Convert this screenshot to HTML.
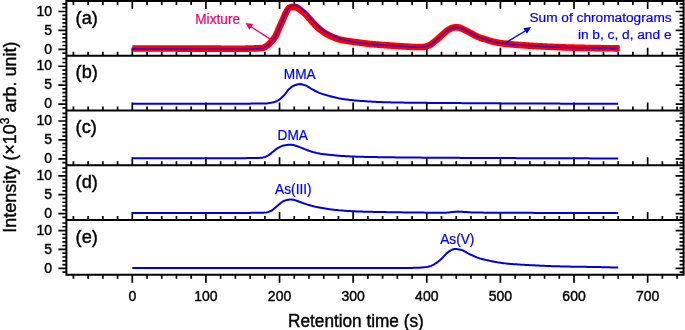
<!DOCTYPE html>
<html><head><meta charset="utf-8"><style>
html,body{margin:0;padding:0;background:#fff;width:685px;height:330px;overflow:hidden}
svg{display:block;font-family:"Liberation Sans",sans-serif}
.t{filter:blur(0.05px)}
</style></head><body>
<svg width="685" height="330" viewBox="0 0 685 330">
<rect width="685" height="330" fill="#fff"/>
<path d="M62.400000000000006,53.08H66.4M679.6,53.08H683.6M58.400000000000006,49.30H66.4M675.6,49.30H683.6M62.400000000000006,45.52H66.4M679.6,45.52H683.6M62.400000000000006,41.74H66.4M679.6,41.74H683.6M62.400000000000006,37.96H66.4M679.6,37.96H683.6M62.400000000000006,34.18H66.4M679.6,34.18H683.6M58.400000000000006,30.40H66.4M675.6,30.40H683.6M62.400000000000006,26.62H66.4M679.6,26.62H683.6M62.400000000000006,22.84H66.4M679.6,22.84H683.6M62.400000000000006,19.06H66.4M679.6,19.06H683.6M62.400000000000006,15.28H66.4M679.6,15.28H683.6M58.400000000000006,11.50H66.4M675.6,11.50H683.6M62.400000000000006,7.72H66.4M679.6,7.72H683.6M62.400000000000006,3.94H66.4M679.6,3.94H683.6M73.40,55.76V51.76M73.40,1.00V5.00M88.13,55.76V51.76M88.13,1.00V5.00M102.85,55.76V51.76M102.85,1.00V5.00M117.58,55.76V51.76M117.58,1.00V5.00M132.30,55.76V47.76M132.30,1.00V9.00M147.02,55.76V51.76M147.02,1.00V5.00M161.75,55.76V51.76M161.75,1.00V5.00M176.47,55.76V51.76M176.47,1.00V5.00M191.20,55.76V51.76M191.20,1.00V5.00M205.92,55.76V47.76M205.92,1.00V9.00M220.64,55.76V51.76M220.64,1.00V5.00M235.37,55.76V51.76M235.37,1.00V5.00M250.09,55.76V51.76M250.09,1.00V5.00M264.82,55.76V51.76M264.82,1.00V5.00M279.54,55.76V47.76M279.54,1.00V9.00M294.26,55.76V51.76M294.26,1.00V5.00M308.99,55.76V51.76M308.99,1.00V5.00M323.71,55.76V51.76M323.71,1.00V5.00M338.44,55.76V51.76M338.44,1.00V5.00M353.16,55.76V47.76M353.16,1.00V9.00M367.88,55.76V51.76M367.88,1.00V5.00M382.61,55.76V51.76M382.61,1.00V5.00M397.33,55.76V51.76M397.33,1.00V5.00M412.06,55.76V51.76M412.06,1.00V5.00M426.78,55.76V47.76M426.78,1.00V9.00M441.50,55.76V51.76M441.50,1.00V5.00M456.23,55.76V51.76M456.23,1.00V5.00M470.95,55.76V51.76M470.95,1.00V5.00M485.68,55.76V51.76M485.68,1.00V5.00M500.40,55.76V47.76M500.40,1.00V9.00M515.12,55.76V51.76M515.12,1.00V5.00M529.85,55.76V51.76M529.85,1.00V5.00M544.57,55.76V51.76M544.57,1.00V5.00M559.30,55.76V51.76M559.30,1.00V5.00M574.02,55.76V47.76M574.02,1.00V9.00M588.74,55.76V51.76M588.74,1.00V5.00M603.47,55.76V51.76M603.47,1.00V5.00M618.19,55.76V51.76M618.19,1.00V5.00M632.92,55.76V51.76M632.92,1.00V5.00M647.64,55.76V47.76M647.64,1.00V9.00M662.36,55.76V51.76M662.36,1.00V5.00M677.09,55.76V51.76M677.09,1.00V5.00M62.400000000000006,107.84H66.4M679.6,107.84H683.6M58.400000000000006,104.06H66.4M675.6,104.06H683.6M62.400000000000006,100.28H66.4M679.6,100.28H683.6M62.400000000000006,96.50H66.4M679.6,96.50H683.6M62.400000000000006,92.72H66.4M679.6,92.72H683.6M62.400000000000006,88.94H66.4M679.6,88.94H683.6M58.400000000000006,85.16H66.4M675.6,85.16H683.6M62.400000000000006,81.38H66.4M679.6,81.38H683.6M62.400000000000006,77.60H66.4M679.6,77.60H683.6M62.400000000000006,73.82H66.4M679.6,73.82H683.6M62.400000000000006,70.04H66.4M679.6,70.04H683.6M58.400000000000006,66.26H66.4M675.6,66.26H683.6M62.400000000000006,62.48H66.4M679.6,62.48H683.6M62.400000000000006,58.70H66.4M679.6,58.70H683.6M73.40,110.52V106.52M88.13,110.52V106.52M102.85,110.52V106.52M117.58,110.52V106.52M132.30,110.52V102.52M147.02,110.52V106.52M161.75,110.52V106.52M176.47,110.52V106.52M191.20,110.52V106.52M205.92,110.52V102.52M220.64,110.52V106.52M235.37,110.52V106.52M250.09,110.52V106.52M264.82,110.52V106.52M279.54,110.52V102.52M294.26,110.52V106.52M308.99,110.52V106.52M323.71,110.52V106.52M338.44,110.52V106.52M353.16,110.52V102.52M367.88,110.52V106.52M382.61,110.52V106.52M397.33,110.52V106.52M412.06,110.52V106.52M426.78,110.52V102.52M441.50,110.52V106.52M456.23,110.52V106.52M470.95,110.52V106.52M485.68,110.52V106.52M500.40,110.52V102.52M515.12,110.52V106.52M529.85,110.52V106.52M544.57,110.52V106.52M559.30,110.52V106.52M574.02,110.52V102.52M588.74,110.52V106.52M603.47,110.52V106.52M618.19,110.52V106.52M632.92,110.52V106.52M647.64,110.52V102.52M662.36,110.52V106.52M677.09,110.52V106.52M62.400000000000006,162.60H66.4M679.6,162.60H683.6M58.400000000000006,158.82H66.4M675.6,158.82H683.6M62.400000000000006,155.04H66.4M679.6,155.04H683.6M62.400000000000006,151.26H66.4M679.6,151.26H683.6M62.400000000000006,147.48H66.4M679.6,147.48H683.6M62.400000000000006,143.70H66.4M679.6,143.70H683.6M58.400000000000006,139.92H66.4M675.6,139.92H683.6M62.400000000000006,136.14H66.4M679.6,136.14H683.6M62.400000000000006,132.36H66.4M679.6,132.36H683.6M62.400000000000006,128.58H66.4M679.6,128.58H683.6M62.400000000000006,124.80H66.4M679.6,124.80H683.6M58.400000000000006,121.02H66.4M675.6,121.02H683.6M62.400000000000006,117.24H66.4M679.6,117.24H683.6M62.400000000000006,113.46H66.4M679.6,113.46H683.6M73.40,165.28V161.28M88.13,165.28V161.28M102.85,165.28V161.28M117.58,165.28V161.28M132.30,165.28V157.28M147.02,165.28V161.28M161.75,165.28V161.28M176.47,165.28V161.28M191.20,165.28V161.28M205.92,165.28V157.28M220.64,165.28V161.28M235.37,165.28V161.28M250.09,165.28V161.28M264.82,165.28V161.28M279.54,165.28V157.28M294.26,165.28V161.28M308.99,165.28V161.28M323.71,165.28V161.28M338.44,165.28V161.28M353.16,165.28V157.28M367.88,165.28V161.28M382.61,165.28V161.28M397.33,165.28V161.28M412.06,165.28V161.28M426.78,165.28V157.28M441.50,165.28V161.28M456.23,165.28V161.28M470.95,165.28V161.28M485.68,165.28V161.28M500.40,165.28V157.28M515.12,165.28V161.28M529.85,165.28V161.28M544.57,165.28V161.28M559.30,165.28V161.28M574.02,165.28V157.28M588.74,165.28V161.28M603.47,165.28V161.28M618.19,165.28V161.28M632.92,165.28V161.28M647.64,165.28V157.28M662.36,165.28V161.28M677.09,165.28V161.28M62.400000000000006,217.36H66.4M679.6,217.36H683.6M58.400000000000006,213.58H66.4M675.6,213.58H683.6M62.400000000000006,209.80H66.4M679.6,209.80H683.6M62.400000000000006,206.02H66.4M679.6,206.02H683.6M62.400000000000006,202.24H66.4M679.6,202.24H683.6M62.400000000000006,198.46H66.4M679.6,198.46H683.6M58.400000000000006,194.68H66.4M675.6,194.68H683.6M62.400000000000006,190.90H66.4M679.6,190.90H683.6M62.400000000000006,187.12H66.4M679.6,187.12H683.6M62.400000000000006,183.34H66.4M679.6,183.34H683.6M62.400000000000006,179.56H66.4M679.6,179.56H683.6M58.400000000000006,175.78H66.4M675.6,175.78H683.6M62.400000000000006,172.00H66.4M679.6,172.00H683.6M62.400000000000006,168.22H66.4M679.6,168.22H683.6M73.40,220.04V216.04M88.13,220.04V216.04M102.85,220.04V216.04M117.58,220.04V216.04M132.30,220.04V212.04M147.02,220.04V216.04M161.75,220.04V216.04M176.47,220.04V216.04M191.20,220.04V216.04M205.92,220.04V212.04M220.64,220.04V216.04M235.37,220.04V216.04M250.09,220.04V216.04M264.82,220.04V216.04M279.54,220.04V212.04M294.26,220.04V216.04M308.99,220.04V216.04M323.71,220.04V216.04M338.44,220.04V216.04M353.16,220.04V212.04M367.88,220.04V216.04M382.61,220.04V216.04M397.33,220.04V216.04M412.06,220.04V216.04M426.78,220.04V212.04M441.50,220.04V216.04M456.23,220.04V216.04M470.95,220.04V216.04M485.68,220.04V216.04M500.40,220.04V212.04M515.12,220.04V216.04M529.85,220.04V216.04M544.57,220.04V216.04M559.30,220.04V216.04M574.02,220.04V212.04M588.74,220.04V216.04M603.47,220.04V216.04M618.19,220.04V216.04M632.92,220.04V216.04M647.64,220.04V212.04M662.36,220.04V216.04M677.09,220.04V216.04M62.400000000000006,272.12H66.4M679.6,272.12H683.6M58.400000000000006,268.34H66.4M675.6,268.34H683.6M62.400000000000006,264.56H66.4M679.6,264.56H683.6M62.400000000000006,260.78H66.4M679.6,260.78H683.6M62.400000000000006,257.00H66.4M679.6,257.00H683.6M62.400000000000006,253.22H66.4M679.6,253.22H683.6M58.400000000000006,249.44H66.4M675.6,249.44H683.6M62.400000000000006,245.66H66.4M679.6,245.66H683.6M62.400000000000006,241.88H66.4M679.6,241.88H683.6M62.400000000000006,238.10H66.4M679.6,238.10H683.6M62.400000000000006,234.32H66.4M679.6,234.32H683.6M58.400000000000006,230.54H66.4M675.6,230.54H683.6M62.400000000000006,226.76H66.4M679.6,226.76H683.6M62.400000000000006,222.98H66.4M679.6,222.98H683.6M73.40,274.80V278.80M88.13,274.80V278.80M102.85,274.80V278.80M117.58,274.80V278.80M132.30,274.80V282.80M147.02,274.80V278.80M161.75,274.80V278.80M176.47,274.80V278.80M191.20,274.80V278.80M205.92,274.80V282.80M220.64,274.80V278.80M235.37,274.80V278.80M250.09,274.80V278.80M264.82,274.80V278.80M279.54,274.80V282.80M294.26,274.80V278.80M308.99,274.80V278.80M323.71,274.80V278.80M338.44,274.80V278.80M353.16,274.80V282.80M367.88,274.80V278.80M382.61,274.80V278.80M397.33,274.80V278.80M412.06,274.80V278.80M426.78,274.80V282.80M441.50,274.80V278.80M456.23,274.80V278.80M470.95,274.80V278.80M485.68,274.80V278.80M500.40,274.80V282.80M515.12,274.80V278.80M529.85,274.80V278.80M544.57,274.80V278.80M559.30,274.80V278.80M574.02,274.80V282.80M588.74,274.80V278.80M603.47,274.80V278.80M618.19,274.80V278.80M632.92,274.80V278.80M647.64,274.80V282.80M662.36,274.80V278.80M677.09,274.80V278.80" stroke="#000" stroke-width="1.7" fill="none"/>
<path d="M132.30,48.54 133.04,48.54 133.77,48.54 134.51,48.54 135.24,48.54 135.98,48.54 136.72,48.54 137.45,48.54 138.19,48.54 138.93,48.54 139.66,48.55 140.40,48.55 141.13,48.55 141.87,48.55 142.61,48.55 143.34,48.55 144.08,48.55 144.82,48.55 145.55,48.55 146.29,48.55 147.02,48.55 147.76,48.55 148.50,48.55 149.23,48.55 149.97,48.55 150.71,48.55 151.44,48.55 152.18,48.55 152.91,48.55 153.65,48.55 154.39,48.55 155.12,48.55 155.86,48.55 156.59,48.55 157.33,48.55 158.07,48.56 158.80,48.56 159.54,48.56 160.28,48.56 161.01,48.56 161.75,48.56 162.48,48.56 163.22,48.56 163.96,48.56 164.69,48.56 165.43,48.56 166.17,48.56 166.90,48.56 167.64,48.56 168.37,48.57 169.11,48.57 169.85,48.57 170.58,48.57 171.32,48.57 172.05,48.57 172.79,48.57 173.53,48.57 174.26,48.57 175.00,48.57 175.74,48.57 176.47,48.58 177.21,48.58 177.94,48.58 178.68,48.58 179.42,48.58 180.15,48.58 180.89,48.58 181.63,48.58 182.36,48.58 183.10,48.58 183.83,48.59 184.57,48.59 185.31,48.59 186.04,48.59 186.78,48.59 187.52,48.59 188.25,48.59 188.99,48.59 189.72,48.59 190.46,48.59 191.20,48.60 191.93,48.60 192.67,48.60 193.40,48.60 194.14,48.60 194.88,48.60 195.61,48.60 196.35,48.60 197.09,48.61 197.82,48.61 198.56,48.61 199.29,48.61 200.03,48.61 200.77,48.61 201.50,48.61 202.24,48.61 202.98,48.61 203.71,48.62 204.45,48.62 205.18,48.62 205.92,48.62 206.66,48.62 207.39,48.62 208.13,48.62 208.86,48.63 209.60,48.63 210.34,48.63 211.07,48.63 211.81,48.64 212.55,48.64 213.28,48.64 214.02,48.64 214.75,48.65 215.49,48.65 216.23,48.65 216.96,48.66 217.70,48.66 218.44,48.66 219.17,48.67 219.91,48.67 220.64,48.67 221.38,48.68 222.12,48.68 222.85,48.68 223.59,48.69 224.32,48.69 225.06,48.69 225.80,48.70 226.53,48.70 227.27,48.70 228.01,48.71 228.74,48.71 229.48,48.71 230.21,48.71 230.95,48.72 231.69,48.72 232.42,48.72 233.16,48.72 233.90,48.72 234.63,48.73 235.37,48.73 236.10,48.73 236.84,48.73 237.58,48.73 238.31,48.73 239.05,48.73 239.79,48.73 240.52,48.73 241.26,48.73 241.99,48.72 242.73,48.72 243.47,48.71 244.20,48.70 244.94,48.68 245.67,48.67 246.41,48.65 247.15,48.63 247.88,48.61 248.62,48.59 249.36,48.57 250.09,48.55 250.83,48.52 251.56,48.50 252.30,48.48 253.04,48.45 253.77,48.43 254.51,48.40 255.25,48.37 255.98,48.34 256.72,48.31 257.45,48.28 258.19,48.24 258.93,48.19 259.66,48.14 260.40,48.07 261.13,48.00 261.87,47.94 262.61,47.87 263.34,47.75 264.08,47.49 264.82,47.11 265.55,46.66 266.29,46.16 267.02,45.64 267.76,45.11 268.50,44.48 269.23,43.78 269.97,43.04 270.71,42.27 271.44,41.49 272.18,40.68 272.91,39.82 273.65,38.91 274.39,37.95 275.12,36.92 275.86,35.70 276.60,34.10 277.33,32.21 278.07,30.36 278.80,28.68 279.54,27.05 280.28,25.44 281.01,23.84 281.75,22.18 282.48,20.41 283.22,18.77 283.96,16.99 284.69,15.37 285.43,13.60 286.17,12.18 286.90,10.84 287.64,9.58 288.37,8.57 289.11,7.85 289.85,7.52 290.58,7.22 291.32,7.06 292.06,7.05 292.79,7.05 293.53,7.22 294.26,7.13 295.00,7.17 295.74,7.05 296.47,7.25 297.21,7.68 297.94,8.17 298.68,8.78 299.42,9.24 300.15,9.74 300.89,10.30 301.63,10.92 302.36,11.55 303.10,12.12 303.83,12.61 304.57,13.34 305.31,14.00 306.04,14.73 306.78,15.54 307.52,16.46 308.25,17.37 308.99,18.18 309.72,18.87 310.46,19.69 311.20,20.56 311.93,21.54 312.67,22.40 313.41,23.08 314.14,23.87 314.88,24.64 315.61,25.46 316.35,26.18 317.09,26.81 317.82,27.53 318.56,28.17 319.29,28.88 320.03,29.46 320.77,30.10 321.50,30.62 322.24,31.18 322.98,31.68 323.71,32.25 324.45,32.74 325.18,33.19 325.92,33.61 326.66,34.02 327.39,34.42 328.13,34.83 328.87,35.22 329.60,35.59 330.34,35.95 331.07,36.29 331.81,36.61 332.55,36.92 333.28,37.22 334.02,37.51 334.75,37.79 335.49,38.05 336.23,38.31 336.96,38.56 337.70,38.80 338.44,39.04 339.17,39.27 339.91,39.48 340.64,39.68 341.38,39.86 342.12,40.02 342.85,40.17 343.59,40.31 344.33,40.45 345.06,40.58 345.80,40.71 346.53,40.83 347.27,40.95 348.01,41.06 348.74,41.17 349.48,41.28 350.22,41.38 350.95,41.49 351.69,41.59 352.42,41.69 353.16,41.79 353.90,41.90 354.63,41.99 355.37,42.09 356.10,42.19 356.84,42.29 357.58,42.39 358.31,42.49 359.05,42.59 359.79,42.68 360.52,42.78 361.26,42.88 361.99,42.98 362.73,43.07 363.47,43.17 364.20,43.26 364.94,43.34 365.68,43.43 366.41,43.52 367.15,43.60 367.88,43.68 368.62,43.76 369.36,43.84 370.09,43.92 370.83,43.99 371.56,44.07 372.30,44.14 373.04,44.21 373.77,44.28 374.51,44.34 375.25,44.41 375.98,44.47 376.72,44.53 377.45,44.59 378.19,44.65 378.93,44.71 379.66,44.77 380.40,44.82 381.14,44.88 381.87,44.93 382.61,44.98 383.34,45.04 384.08,45.09 384.82,45.14 385.55,45.19 386.29,45.24 387.03,45.29 387.76,45.35 388.50,45.40 389.23,45.45 389.97,45.50 390.71,45.55 391.44,45.60 392.18,45.65 392.91,45.71 393.65,45.76 394.39,45.81 395.12,45.86 395.86,45.91 396.60,45.96 397.33,46.01 398.07,46.06 398.80,46.11 399.54,46.16 400.28,46.21 401.01,46.25 401.75,46.30 402.49,46.35 403.22,46.39 403.96,46.44 404.69,46.48 405.43,46.52 406.17,46.57 406.90,46.61 407.64,46.65 408.38,46.70 409.11,46.75 409.85,46.80 410.58,46.85 411.32,46.90 412.06,46.94 412.79,46.97 413.53,47.00 414.26,47.02 415.00,47.03 415.74,47.03 416.47,47.03 417.21,47.03 417.95,47.03 418.68,47.03 419.42,47.03 420.15,47.03 420.89,47.03 421.63,47.03 422.36,47.03 423.10,46.99 423.84,46.90 424.57,46.77 425.31,46.61 426.04,46.42 426.78,46.20 427.52,45.97 428.25,45.72 428.99,45.47 429.72,45.15 430.46,44.74 431.20,44.26 431.93,43.72 432.67,43.14 433.41,42.54 434.14,41.93 434.88,41.32 435.61,40.73 436.35,40.12 437.09,39.49 437.82,38.83 438.56,38.15 439.30,37.47 440.03,36.78 440.77,36.11 441.50,35.45 442.24,34.81 442.98,34.17 443.71,33.53 444.45,32.87 445.19,32.20 445.92,31.57 446.66,30.99 447.39,30.45 448.13,29.93 448.87,29.50 449.60,29.10 450.34,28.71 451.07,28.34 451.81,28.01 452.55,27.80 453.28,27.59 454.02,27.46 454.76,27.32 455.49,27.29 456.23,27.20 456.96,27.29 457.70,27.36 458.44,27.48 459.17,27.59 459.91,27.77 460.65,28.06 461.38,28.35 462.12,28.67 462.85,29.01 463.59,29.33 464.33,29.70 465.06,30.08 465.80,30.49 466.53,30.85 467.27,31.23 468.01,31.60 468.74,32.03 469.48,32.45 470.22,32.85 470.95,33.24 471.69,33.62 472.42,34.02 473.16,34.43 473.90,34.85 474.63,35.25 475.37,35.62 476.11,35.98 476.84,36.34 477.58,36.68 478.31,37.00 479.05,37.27 479.79,37.54 480.52,37.79 481.26,38.03 482.00,38.27 482.73,38.50 483.47,38.72 484.20,38.95 484.94,39.17 485.68,39.40 486.41,39.63 487.15,39.86 487.88,40.10 488.62,40.34 489.36,40.58 490.09,40.81 490.83,41.04 491.57,41.26 492.30,41.47 493.04,41.67 493.77,41.85 494.51,42.02 495.25,42.18 495.98,42.32 496.72,42.46 497.46,42.59 498.19,42.72 498.93,42.84 499.66,42.95 500.40,43.06 501.14,43.17 501.87,43.27 502.61,43.37 503.34,43.46 504.08,43.55 504.82,43.64 505.55,43.73 506.29,43.82 507.03,43.90 507.76,43.98 508.50,44.06 509.23,44.13 509.97,44.21 510.71,44.28 511.44,44.35 512.18,44.41 512.92,44.48 513.65,44.54 514.39,44.61 515.12,44.67 515.86,44.73 516.60,44.79 517.33,44.84 518.07,44.90 518.81,44.96 519.54,45.01 520.28,45.07 521.01,45.12 521.75,45.17 522.49,45.23 523.22,45.28 523.96,45.33 524.69,45.38 525.43,45.43 526.17,45.47 526.90,45.52 527.64,45.57 528.38,45.62 529.11,45.66 529.85,45.71 530.58,45.75 531.32,45.80 532.06,45.84 532.79,45.88 533.53,45.93 534.27,45.97 535.00,46.01 535.74,46.06 536.47,46.10 537.21,46.14 537.95,46.18 538.68,46.22 539.42,46.26 540.15,46.30 540.89,46.34 541.63,46.38 542.36,46.42 543.10,46.46 543.84,46.50 544.57,46.54 545.31,46.57 546.04,46.61 546.78,46.64 547.52,46.68 548.25,46.71 548.99,46.75 549.73,46.78 550.46,46.81 551.20,46.85 551.93,46.88 552.67,46.91 553.41,46.94 554.14,46.97 554.88,47.00 555.62,47.03 556.35,47.06 557.09,47.09 557.82,47.12 558.56,47.15 559.30,47.17 560.03,47.20 560.77,47.23 561.50,47.25 562.24,47.28 562.98,47.31 563.71,47.33 564.45,47.36 565.19,47.38 565.92,47.41 566.66,47.43 567.39,47.45 568.13,47.48 568.87,47.50 569.60,47.52 570.34,47.54 571.08,47.57 571.81,47.59 572.55,47.61 573.28,47.63 574.02,47.65 574.76,47.67 575.49,47.69 576.23,47.71 576.96,47.73 577.70,47.75 578.44,47.77 579.17,47.79 579.91,47.81 580.65,47.83 581.38,47.84 582.12,47.86 582.85,47.88 583.59,47.89 584.33,47.91 585.06,47.93 585.80,47.94 586.54,47.96 587.27,47.97 588.01,47.98 588.74,48.00 589.48,48.01 590.22,48.02 590.95,48.03 591.69,48.04 592.42,48.05 593.16,48.06 593.90,48.07 594.63,48.08 595.37,48.10 596.11,48.11 596.84,48.12 597.58,48.13 598.31,48.14 599.05,48.15 599.79,48.16 600.52,48.17 601.26,48.18 602.00,48.18 602.73,48.19 603.47,48.20 604.20,48.21 604.94,48.22 605.68,48.23 606.41,48.24 607.15,48.24 607.89,48.25 608.62,48.26 609.36,48.26 610.09,48.27 610.83,48.28 611.57,48.28 612.30,48.29 613.04,48.29 613.77,48.30 614.51,48.30 615.25,48.31 615.98,48.31 616.72,48.31 617.46,48.31 618.19,48.32" fill="none" stroke="#ff0000" stroke-width="6.6" stroke-linejoin="round"/>
<path d="M614.51,45.02H618.79Q619.79,45.02 619.79,46.02V50.62Q619.79,51.62 618.79,51.62H614.51Z" fill="#ff0000"/>
<path d="M132.30,48.92 133.77,48.92 135.24,48.92 136.72,48.92 138.19,48.92 139.66,48.92 141.13,48.92 142.61,48.92 144.08,48.92 145.55,48.93 147.02,48.93 148.50,48.93 149.97,48.93 151.44,48.93 152.91,48.93 154.39,48.93 155.86,48.93 157.33,48.93 158.80,48.93 160.28,48.94 161.75,48.94 163.22,48.94 164.69,48.94 166.17,48.94 167.64,48.94 169.11,48.94 170.58,48.95 172.05,48.95 173.53,48.95 175.00,48.95 176.47,48.95 177.94,48.96 179.42,48.96 180.89,48.96 182.36,48.96 183.83,48.96 185.31,48.97 186.78,48.97 188.25,48.97 189.72,48.97 191.20,48.97 192.67,48.98 194.14,48.98 195.61,48.98 197.09,48.98 198.56,48.99 200.03,48.99 201.50,48.99 202.98,48.99 204.45,49.00 205.92,49.00 207.39,49.00 208.86,49.00 210.34,49.01 211.81,49.01 213.28,49.02 214.75,49.02 216.23,49.03 217.70,49.04 219.17,49.04 220.64,49.05 222.12,49.06 223.59,49.06 225.06,49.07 226.53,49.08 228.01,49.08 229.48,49.09 230.95,49.09 232.42,49.10 233.90,49.10 235.37,49.11 236.84,49.11 238.31,49.11 239.79,49.11 241.26,49.11 242.73,49.09 244.20,49.07 245.67,49.04 247.15,49.01 248.62,48.97 250.09,48.93 251.56,48.88 253.04,48.83 254.51,48.78 255.98,48.72 257.45,48.65 258.93,48.57 260.40,48.45 261.87,48.30 263.34,48.05 264.82,47.30 266.29,46.24 267.76,45.12 269.23,43.78 270.71,42.27 272.18,40.68 273.65,38.91 275.12,36.91 276.60,34.10 278.07,30.40 279.54,27.13 281.01,23.84 282.48,20.35 283.96,16.97 285.43,13.71 286.90,10.86 288.37,8.29 289.85,6.79 291.32,5.81 292.79,5.26 294.26,5.04 295.74,5.14 297.21,5.83 298.68,6.73 300.15,7.80 301.63,8.89 303.10,10.07 304.57,11.36 306.04,12.84 307.52,14.51 308.99,16.21 310.46,17.87 311.93,19.57 313.41,21.25 314.88,22.84 316.35,24.31 317.82,25.71 319.29,27.02 320.77,28.25 322.24,29.40 323.71,30.48 325.18,31.48 326.66,32.42 328.13,33.30 329.60,34.13 331.07,34.90 332.55,35.62 334.02,36.29 335.49,36.93 336.96,37.52 338.44,38.09 339.91,38.63 341.38,39.10 342.85,39.51 344.33,39.88 345.80,40.22 347.27,40.54 348.74,40.84 350.22,41.12 351.69,41.39 353.16,41.65 354.63,41.90 356.10,42.14 357.58,42.36 359.05,42.58 360.52,42.78 361.99,42.98 363.47,43.17 364.94,43.34 366.41,43.52 367.88,43.68 369.36,43.84 370.83,43.99 372.30,44.14 373.77,44.28 375.25,44.41 376.72,44.53 378.19,44.65 379.66,44.77 381.14,44.88 382.61,44.98 384.08,45.09 385.55,45.19 387.03,45.29 388.50,45.40 389.97,45.50 391.44,45.60 392.91,45.71 394.39,45.81 395.86,45.91 397.33,46.01 398.80,46.11 400.28,46.21 401.75,46.30 403.22,46.39 404.69,46.48 406.17,46.57 407.64,46.65 409.11,46.75 410.58,46.85 412.06,46.94 413.53,47.00 415.00,47.03 416.47,47.03 417.95,47.03 419.42,47.03 420.89,47.03 422.36,47.03 423.84,46.90 425.31,46.61 426.78,46.20 428.25,45.72 429.72,45.15 431.20,44.26 432.67,43.14 434.14,41.93 435.61,40.73 437.09,39.49 438.56,38.15 440.03,36.79 441.50,35.46 442.98,34.18 444.45,32.88 445.92,31.61 447.39,30.46 448.87,29.51 450.34,28.65 451.81,27.97 453.28,27.59 454.76,27.32 456.23,27.19 457.70,27.29 459.17,27.56 460.65,28.02 462.12,28.67 463.59,29.35 465.06,30.07 466.53,30.85 468.01,31.66 469.48,32.46 470.95,33.24 472.42,34.04 473.90,34.85 475.37,35.63 476.84,36.36 478.31,36.99 479.79,37.54 481.26,38.03 482.73,38.50 484.20,38.95 485.68,39.40 487.15,39.86 488.62,40.34 490.09,40.81 491.57,41.26 493.04,41.67 494.51,42.02 495.98,42.32 497.46,42.59 498.93,42.84 500.40,43.06 501.87,43.27 503.34,43.46 504.82,43.64 506.29,43.82 507.76,43.98 509.23,44.13 510.71,44.28 512.18,44.41 513.65,44.54 515.12,44.67 516.60,44.79 518.07,44.90 519.54,45.01 521.01,45.12 522.49,45.23 523.96,45.33 525.43,45.43 526.90,45.52 528.38,45.62 529.85,45.71 531.32,45.80 532.79,45.88 534.27,45.97 535.74,46.06 537.21,46.14 538.68,46.22 540.15,46.30 541.63,46.38 543.10,46.46 544.57,46.54 546.04,46.61 547.52,46.68 548.99,46.75 550.46,46.81 551.93,46.88 553.41,46.94 554.88,47.00 556.35,47.06 557.82,47.12 559.30,47.17 560.77,47.23 562.24,47.28 563.71,47.33 565.19,47.38 566.66,47.43 568.13,47.48 569.60,47.52 571.08,47.57 572.55,47.61 574.02,47.65 575.49,47.69 576.96,47.73 578.44,47.77 579.91,47.81 581.38,47.84 582.85,47.88 584.33,47.91 585.80,47.94 587.27,47.97 588.74,48.00 590.22,48.02 591.69,48.04 593.16,48.06 594.63,48.08 596.11,48.11 597.58,48.13 599.05,48.15 600.52,48.17 602.00,48.18 603.47,48.20 604.94,48.22 606.41,48.24 607.89,48.25 609.36,48.26 610.83,48.28 612.30,48.29 613.77,48.30 615.25,48.31 616.72,48.31 618.19,48.32" fill="none" stroke="#4a00b4" stroke-width="1.7" stroke-linejoin="round"/>
<path d="M132.30,103.68 133.77,103.68 135.24,103.68 136.72,103.68 138.19,103.68 139.66,103.68 141.13,103.68 142.61,103.68 144.08,103.68 145.55,103.68 147.02,103.68 148.50,103.68 149.97,103.68 151.44,103.68 152.91,103.68 154.39,103.68 155.86,103.68 157.33,103.68 158.80,103.68 160.28,103.68 161.75,103.68 163.22,103.68 164.69,103.68 166.17,103.68 167.64,103.68 169.11,103.68 170.58,103.68 172.05,103.68 173.53,103.68 175.00,103.68 176.47,103.68 177.94,103.68 179.42,103.68 180.89,103.68 182.36,103.68 183.83,103.68 185.31,103.68 186.78,103.68 188.25,103.68 189.72,103.68 191.20,103.68 192.67,103.68 194.14,103.68 195.61,103.68 197.09,103.68 198.56,103.68 200.03,103.68 201.50,103.68 202.98,103.68 204.45,103.68 205.92,103.68 207.39,103.68 208.86,103.68 210.34,103.68 211.81,103.68 213.28,103.68 214.75,103.68 216.23,103.68 217.70,103.68 219.17,103.68 220.64,103.68 222.12,103.68 223.59,103.68 225.06,103.68 226.53,103.68 228.01,103.68 229.48,103.68 230.95,103.68 232.42,103.68 233.90,103.67 235.37,103.67 236.84,103.67 238.31,103.67 239.79,103.66 241.26,103.66 242.73,103.66 244.20,103.65 245.67,103.65 247.15,103.64 248.62,103.63 250.09,103.63 251.56,103.62 253.04,103.61 254.51,103.61 255.98,103.60 257.45,103.59 258.93,103.58 260.40,103.57 261.87,103.56 263.34,103.54 264.82,103.53 266.29,103.45 267.76,103.27 269.23,103.04 270.71,102.80 272.18,102.52 273.65,102.17 275.12,101.74 276.60,101.23 278.07,100.48 279.54,99.43 281.01,98.18 282.48,96.81 283.96,95.37 285.43,93.56 286.90,91.59 288.37,89.78 289.85,88.40 291.32,87.20 292.79,86.20 294.26,85.50 295.74,84.93 297.21,84.45 298.68,84.14 300.15,84.08 301.63,84.28 303.10,84.66 304.57,85.14 306.04,85.65 307.52,86.38 308.99,87.29 310.46,88.26 311.93,89.18 313.41,89.97 314.88,90.74 316.35,91.49 317.82,92.20 319.29,92.85 320.77,93.42 322.24,93.93 323.71,94.39 325.18,94.83 326.66,95.24 328.13,95.63 329.60,96.02 331.07,96.42 332.55,96.81 334.02,97.19 335.49,97.56 336.96,97.90 338.44,98.21 339.91,98.48 341.38,98.73 342.85,98.96 344.33,99.18 345.80,99.39 347.27,99.58 348.74,99.77 350.22,99.94 351.69,100.10 353.16,100.26 354.63,100.40 356.10,100.54 357.58,100.67 359.05,100.79 360.52,100.91 361.99,101.02 363.47,101.12 364.94,101.23 366.41,101.32 367.88,101.42 369.36,101.51 370.83,101.60 372.30,101.68 373.77,101.77 375.25,101.84 376.72,101.91 378.19,101.97 379.66,102.03 381.14,102.09 382.61,102.14 384.08,102.19 385.55,102.24 387.03,102.28 388.50,102.32 389.97,102.36 391.44,102.39 392.91,102.42 394.39,102.46 395.86,102.49 397.33,102.51 398.80,102.54 400.28,102.57 401.75,102.59 403.22,102.62 404.69,102.64 406.17,102.66 407.64,102.68 409.11,102.70 410.58,102.72 412.06,102.74 413.53,102.75 415.00,102.77 416.47,102.78 417.95,102.80 419.42,102.81 420.89,102.82 422.36,102.83 423.84,102.84 425.31,102.85 426.78,102.87 428.25,102.88 429.72,102.89 431.20,102.90 432.67,102.91 434.14,102.92 435.61,102.93 437.09,102.94 438.56,102.95 440.03,102.96 441.50,102.98 442.98,102.99 444.45,103.00 445.92,103.01 447.39,103.02 448.87,103.03 450.34,103.05 451.81,103.06 453.28,103.07 454.76,103.08 456.23,103.09 457.70,103.10 459.17,103.11 460.65,103.12 462.12,103.14 463.59,103.15 465.06,103.16 466.53,103.17 468.01,103.18 469.48,103.19 470.95,103.20 472.42,103.21 473.90,103.22 475.37,103.23 476.84,103.24 478.31,103.25 479.79,103.26 481.26,103.27 482.73,103.28 484.20,103.29 485.68,103.30 487.15,103.31 488.62,103.32 490.09,103.33 491.57,103.33 493.04,103.34 494.51,103.35 495.98,103.36 497.46,103.37 498.93,103.37 500.40,103.38 501.87,103.39 503.34,103.39 504.82,103.40 506.29,103.41 507.76,103.41 509.23,103.42 510.71,103.43 512.18,103.43 513.65,103.44 515.12,103.45 516.60,103.45 518.07,103.46 519.54,103.47 521.01,103.47 522.49,103.48 523.96,103.48 525.43,103.49 526.90,103.50 528.38,103.50 529.85,103.51 531.32,103.52 532.79,103.52 534.27,103.53 535.74,103.53 537.21,103.54 538.68,103.55 540.15,103.55 541.63,103.56 543.10,103.56 544.57,103.57 546.04,103.57 547.52,103.58 548.99,103.59 550.46,103.59 551.93,103.60 553.41,103.60 554.88,103.61 556.35,103.61 557.82,103.62 559.30,103.62 560.77,103.63 562.24,103.63 563.71,103.64 565.19,103.64 566.66,103.65 568.13,103.65 569.60,103.66 571.08,103.66 572.55,103.67 574.02,103.67 575.49,103.68 576.96,103.68 578.44,103.68 579.91,103.69 581.38,103.69 582.85,103.70 584.33,103.70 585.80,103.70 587.27,103.71 588.74,103.71 590.22,103.71 591.69,103.72 593.16,103.72 594.63,103.72 596.11,103.73 597.58,103.73 599.05,103.73 600.52,103.73 602.00,103.74 603.47,103.74 604.94,103.74 606.41,103.74 607.89,103.75 609.36,103.75 610.83,103.75 612.30,103.75 613.77,103.75 615.25,103.75 616.72,103.76 618.19,103.76" fill="none" stroke="#0000dd" stroke-width="2" stroke-linejoin="round"/>
<path d="M132.30,158.25 133.77,158.25 135.24,158.25 136.72,158.25 138.19,158.25 139.66,158.25 141.13,158.25 142.61,158.25 144.08,158.25 145.55,158.25 147.02,158.25 148.50,158.25 149.97,158.25 151.44,158.25 152.91,158.25 154.39,158.25 155.86,158.25 157.33,158.25 158.80,158.25 160.28,158.25 161.75,158.25 163.22,158.25 164.69,158.25 166.17,158.25 167.64,158.25 169.11,158.25 170.58,158.25 172.05,158.25 173.53,158.25 175.00,158.24 176.47,158.24 177.94,158.24 179.42,158.24 180.89,158.24 182.36,158.24 183.83,158.24 185.31,158.24 186.78,158.24 188.25,158.24 189.72,158.24 191.20,158.24 192.67,158.24 194.14,158.23 195.61,158.23 197.09,158.23 198.56,158.23 200.03,158.23 201.50,158.23 202.98,158.23 204.45,158.23 205.92,158.23 207.39,158.23 208.86,158.22 210.34,158.22 211.81,158.22 213.28,158.22 214.75,158.22 216.23,158.22 217.70,158.22 219.17,158.22 220.64,158.22 222.12,158.21 223.59,158.21 225.06,158.21 226.53,158.21 228.01,158.20 229.48,158.20 230.95,158.20 232.42,158.19 233.90,158.19 235.37,158.18 236.84,158.18 238.31,158.17 239.79,158.17 241.26,158.16 242.73,158.15 244.20,158.14 245.67,158.13 247.15,158.12 248.62,158.11 250.09,158.10 251.56,158.09 253.04,158.07 254.51,158.05 255.98,158.02 257.45,157.96 258.93,157.89 260.40,157.79 261.87,157.67 263.34,157.41 264.82,156.98 266.29,156.41 267.76,155.77 269.23,154.83 270.71,153.63 272.18,152.34 273.65,151.17 275.12,150.01 276.60,148.85 278.07,147.82 279.54,147.04 281.01,146.39 282.48,145.82 283.96,145.40 285.43,145.16 286.90,144.99 288.37,144.86 289.85,144.78 291.32,144.77 292.79,144.96 294.26,145.31 295.74,145.73 297.21,146.16 298.68,146.69 300.15,147.30 301.63,147.93 303.10,148.51 304.57,149.09 306.04,149.68 307.52,150.25 308.99,150.79 310.46,151.27 311.93,151.70 313.41,152.11 314.88,152.50 316.35,152.86 317.82,153.18 319.29,153.47 320.77,153.73 322.24,153.95 323.71,154.16 325.18,154.35 326.66,154.53 328.13,154.69 329.60,154.83 331.07,154.98 332.55,155.12 334.02,155.25 335.49,155.39 336.96,155.52 338.44,155.64 339.91,155.77 341.38,155.88 342.85,155.99 344.33,156.09 345.80,156.19 347.27,156.28 348.74,156.36 350.22,156.43 351.69,156.50 353.16,156.55 354.63,156.60 356.10,156.65 357.58,156.69 359.05,156.73 360.52,156.77 361.99,156.81 363.47,156.85 364.94,156.88 366.41,156.92 367.88,156.95 369.36,156.98 370.83,157.01 372.30,157.04 373.77,157.07 375.25,157.09 376.72,157.12 378.19,157.14 379.66,157.17 381.14,157.19 382.61,157.21 384.08,157.23 385.55,157.25 387.03,157.27 388.50,157.29 389.97,157.31 391.44,157.33 392.91,157.34 394.39,157.36 395.86,157.38 397.33,157.40 398.80,157.41 400.28,157.43 401.75,157.44 403.22,157.46 404.69,157.47 406.17,157.49 407.64,157.50 409.11,157.52 410.58,157.53 412.06,157.54 413.53,157.56 415.00,157.57 416.47,157.58 417.95,157.59 419.42,157.60 420.89,157.62 422.36,157.63 423.84,157.64 425.31,157.65 426.78,157.66 428.25,157.67 429.72,157.68 431.20,157.69 432.67,157.70 434.14,157.71 435.61,157.72 437.09,157.73 438.56,157.74 440.03,157.75 441.50,157.76 442.98,157.77 444.45,157.78 445.92,157.79 447.39,157.80 448.87,157.81 450.34,157.82 451.81,157.83 453.28,157.83 454.76,157.84 456.23,157.85 457.70,157.86 459.17,157.87 460.65,157.88 462.12,157.88 463.59,157.89 465.06,157.90 466.53,157.91 468.01,157.92 469.48,157.92 470.95,157.93 472.42,157.94 473.90,157.95 475.37,157.95 476.84,157.96 478.31,157.97 479.79,157.97 481.26,157.98 482.73,157.99 484.20,157.99 485.68,158.00 487.15,158.01 488.62,158.01 490.09,158.02 491.57,158.03 493.04,158.03 494.51,158.04 495.98,158.05 497.46,158.05 498.93,158.06 500.40,158.06 501.87,158.07 503.34,158.08 504.82,158.08 506.29,158.09 507.76,158.09 509.23,158.10 510.71,158.11 512.18,158.11 513.65,158.12 515.12,158.12 516.60,158.13 518.07,158.13 519.54,158.14 521.01,158.15 522.49,158.15 523.96,158.16 525.43,158.16 526.90,158.17 528.38,158.17 529.85,158.18 531.32,158.19 532.79,158.19 534.27,158.20 535.74,158.20 537.21,158.21 538.68,158.21 540.15,158.22 541.63,158.22 543.10,158.23 544.57,158.23 546.04,158.24 547.52,158.24 548.99,158.25 550.46,158.25 551.93,158.26 553.41,158.26 554.88,158.27 556.35,158.27 557.82,158.28 559.30,158.28 560.77,158.29 562.24,158.29 563.71,158.30 565.19,158.30 566.66,158.31 568.13,158.31 569.60,158.32 571.08,158.32 572.55,158.33 574.02,158.33 575.49,158.34 576.96,158.34 578.44,158.34 579.91,158.35 581.38,158.35 582.85,158.36 584.33,158.36 585.80,158.37 587.27,158.37 588.74,158.37 590.22,158.38 591.69,158.38 593.16,158.39 594.63,158.39 596.11,158.39 597.58,158.40 599.05,158.40 600.52,158.40 602.00,158.41 603.47,158.41 604.94,158.41 606.41,158.42 607.89,158.42 609.36,158.42 610.83,158.43 612.30,158.43 613.77,158.43 615.25,158.44 616.72,158.44 618.19,158.44" fill="none" stroke="#0000dd" stroke-width="2" stroke-linejoin="round"/>
<path d="M132.30,213.01 133.77,213.01 135.24,213.01 136.72,213.01 138.19,213.01 139.66,213.01 141.13,213.01 142.61,213.01 144.08,213.01 145.55,213.01 147.02,213.01 148.50,213.01 149.97,213.01 151.44,213.01 152.91,213.01 154.39,213.01 155.86,213.01 157.33,213.01 158.80,213.01 160.28,213.01 161.75,213.01 163.22,213.01 164.69,213.01 166.17,213.01 167.64,213.01 169.11,213.01 170.58,213.01 172.05,213.01 173.53,213.00 175.00,213.00 176.47,213.00 177.94,213.00 179.42,213.00 180.89,213.00 182.36,213.00 183.83,213.00 185.31,213.00 186.78,213.00 188.25,213.00 189.72,213.00 191.20,213.00 192.67,213.00 194.14,212.99 195.61,212.99 197.09,212.99 198.56,212.99 200.03,212.99 201.50,212.99 202.98,212.99 204.45,212.99 205.92,212.99 207.39,212.99 208.86,212.98 210.34,212.98 211.81,212.98 213.28,212.98 214.75,212.98 216.23,212.98 217.70,212.98 219.17,212.98 220.64,212.98 222.12,212.97 223.59,212.97 225.06,212.97 226.53,212.97 228.01,212.97 229.48,212.96 230.95,212.96 232.42,212.96 233.90,212.95 235.37,212.95 236.84,212.94 238.31,212.94 239.79,212.93 241.26,212.93 242.73,212.92 244.20,212.91 245.67,212.91 247.15,212.90 248.62,212.89 250.09,212.88 251.56,212.87 253.04,212.86 254.51,212.85 255.98,212.84 257.45,212.82 258.93,212.81 260.40,212.78 261.87,212.74 263.34,212.69 264.82,212.62 266.29,212.47 267.76,212.12 269.23,211.62 270.71,211.02 272.18,210.25 273.65,209.12 275.12,207.81 276.60,206.52 278.07,205.29 279.54,203.97 281.01,202.72 282.48,201.72 283.96,200.99 285.43,200.39 286.90,199.97 288.37,199.68 289.85,199.46 291.32,199.42 292.79,199.64 294.26,199.97 295.74,200.39 297.21,200.94 298.68,201.49 300.15,202.01 301.63,202.55 303.10,203.09 304.57,203.62 306.04,204.14 307.52,204.63 308.99,205.07 310.46,205.49 311.93,205.89 313.41,206.26 314.88,206.62 316.35,206.95 317.82,207.26 319.29,207.55 320.77,207.82 322.24,208.08 323.71,208.32 325.18,208.55 326.66,208.77 328.13,208.99 329.60,209.19 331.07,209.39 332.55,209.58 334.02,209.75 335.49,209.92 336.96,210.07 338.44,210.22 339.91,210.37 341.38,210.50 342.85,210.62 344.33,210.73 345.80,210.84 347.27,210.94 348.74,211.03 350.22,211.11 351.69,211.19 353.16,211.26 354.63,211.32 356.10,211.38 357.58,211.44 359.05,211.50 360.52,211.55 361.99,211.60 363.47,211.64 364.94,211.69 366.41,211.73 367.88,211.77 369.36,211.80 370.83,211.84 372.30,211.87 373.77,211.90 375.25,211.93 376.72,211.96 378.19,211.99 379.66,212.02 381.14,212.05 382.61,212.07 384.08,212.10 385.55,212.12 387.03,212.15 388.50,212.17 389.97,212.19 391.44,212.22 392.91,212.24 394.39,212.26 395.86,212.28 397.33,212.30 398.80,212.32 400.28,212.34 401.75,212.36 403.22,212.38 404.69,212.40 406.17,212.43 407.64,212.45 409.11,212.47 410.58,212.49 412.06,212.50 413.53,212.52 415.00,212.54 416.47,212.56 417.95,212.57 419.42,212.59 420.89,212.60 422.36,212.61 423.84,212.62 425.31,212.63 426.78,212.63 428.25,212.64 429.72,212.64 431.20,212.65 432.67,212.65 434.14,212.66 435.61,212.66 437.09,212.66 438.56,212.67 440.03,212.67 441.50,212.67 442.98,212.67 444.45,212.67 445.92,212.66 447.39,212.59 448.87,212.45 450.34,212.28 451.81,212.10 453.28,211.92 454.76,211.76 456.23,211.65 457.70,211.61 459.17,211.64 460.65,211.69 462.12,211.78 463.59,211.88 465.06,211.99 466.53,212.11 468.01,212.22 469.48,212.32 470.95,212.40 472.42,212.45 473.90,212.47 475.37,212.50 476.84,212.52 478.31,212.55 479.79,212.57 481.26,212.59 482.73,212.61 484.20,212.63 485.68,212.64 487.15,212.66 488.62,212.67 490.09,212.68 491.57,212.70 493.04,212.71 494.51,212.72 495.98,212.73 497.46,212.73 498.93,212.74 500.40,212.75 501.87,212.75 503.34,212.76 504.82,212.77 506.29,212.77 507.76,212.78 509.23,212.79 510.71,212.79 512.18,212.80 513.65,212.80 515.12,212.81 516.60,212.81 518.07,212.82 519.54,212.82 521.01,212.83 522.49,212.84 523.96,212.84 525.43,212.85 526.90,212.85 528.38,212.86 529.85,212.86 531.32,212.87 532.79,212.87 534.27,212.88 535.74,212.88 537.21,212.88 538.68,212.89 540.15,212.89 541.63,212.90 543.10,212.90 544.57,212.91 546.04,212.91 547.52,212.91 548.99,212.92 550.46,212.92 551.93,212.93 553.41,212.93 554.88,212.93 556.35,212.94 557.82,212.94 559.30,212.94 560.77,212.95 562.24,212.95 563.71,212.95 565.19,212.96 566.66,212.96 568.13,212.96 569.60,212.97 571.08,212.97 572.55,212.97 574.02,212.97 575.49,212.98 576.96,212.98 578.44,212.98 579.91,212.98 581.38,212.99 582.85,212.99 584.33,212.99 585.80,212.99 587.27,212.99 588.74,213.00 590.22,213.00 591.69,213.00 593.16,213.00 594.63,213.00 596.11,213.00 597.58,213.00 599.05,213.01 600.52,213.01 602.00,213.01 603.47,213.01 604.94,213.01 606.41,213.01 607.89,213.01 609.36,213.01 610.83,213.01 612.30,213.01 613.77,213.01 615.25,213.01 616.72,213.01 618.19,213.01" fill="none" stroke="#0000dd" stroke-width="2" stroke-linejoin="round"/>
<path d="M132.30,268.04 133.77,268.04 135.24,268.04 136.72,268.04 138.19,268.04 139.66,268.04 141.13,268.04 142.61,268.04 144.08,268.04 145.55,268.04 147.02,268.04 148.50,268.04 149.97,268.04 151.44,268.04 152.91,268.04 154.39,268.04 155.86,268.04 157.33,268.04 158.80,268.04 160.28,268.04 161.75,268.04 163.22,268.04 164.69,268.04 166.17,268.04 167.64,268.04 169.11,268.04 170.58,268.04 172.05,268.04 173.53,268.04 175.00,268.04 176.47,268.04 177.94,268.04 179.42,268.04 180.89,268.04 182.36,268.04 183.83,268.04 185.31,268.04 186.78,268.04 188.25,268.04 189.72,268.04 191.20,268.04 192.67,268.04 194.14,268.04 195.61,268.04 197.09,268.04 198.56,268.04 200.03,268.04 201.50,268.04 202.98,268.04 204.45,268.04 205.92,268.04 207.39,268.04 208.86,268.04 210.34,268.04 211.81,268.04 213.28,268.04 214.75,268.04 216.23,268.04 217.70,268.04 219.17,268.04 220.64,268.04 222.12,268.04 223.59,268.04 225.06,268.04 226.53,268.04 228.01,268.04 229.48,268.04 230.95,268.04 232.42,268.04 233.90,268.04 235.37,268.04 236.84,268.04 238.31,268.04 239.79,268.04 241.26,268.04 242.73,268.04 244.20,268.04 245.67,268.04 247.15,268.04 248.62,268.04 250.09,268.04 251.56,268.04 253.04,268.04 254.51,268.04 255.98,268.04 257.45,268.04 258.93,268.04 260.40,268.04 261.87,268.04 263.34,268.04 264.82,268.04 266.29,268.04 267.76,268.04 269.23,268.04 270.71,268.04 272.18,268.04 273.65,268.04 275.12,268.04 276.60,268.04 278.07,268.04 279.54,268.04 281.01,268.04 282.48,268.04 283.96,268.04 285.43,268.04 286.90,268.04 288.37,268.04 289.85,268.04 291.32,268.04 292.79,268.04 294.26,268.04 295.74,268.04 297.21,268.04 298.68,268.04 300.15,268.04 301.63,268.04 303.10,268.04 304.57,268.04 306.04,268.03 307.52,268.03 308.99,268.03 310.46,268.03 311.93,268.03 313.41,268.03 314.88,268.03 316.35,268.03 317.82,268.03 319.29,268.03 320.77,268.03 322.24,268.03 323.71,268.03 325.18,268.03 326.66,268.03 328.13,268.03 329.60,268.03 331.07,268.02 332.55,268.02 334.02,268.02 335.49,268.02 336.96,268.02 338.44,268.02 339.91,268.02 341.38,268.02 342.85,268.02 344.33,268.01 345.80,268.01 347.27,268.01 348.74,268.01 350.22,268.01 351.69,268.01 353.16,268.00 354.63,268.00 356.10,268.00 357.58,268.00 359.05,268.00 360.52,268.00 361.99,267.99 363.47,267.99 364.94,267.99 366.41,267.99 367.88,267.99 369.36,267.98 370.83,267.98 372.30,267.98 373.77,267.98 375.25,267.97 376.72,267.97 378.19,267.97 379.66,267.97 381.14,267.96 382.61,267.96 384.08,267.96 385.55,267.95 387.03,267.95 388.50,267.95 389.97,267.94 391.44,267.94 392.91,267.94 394.39,267.93 395.86,267.93 397.33,267.93 398.80,267.92 400.28,267.92 401.75,267.92 403.22,267.91 404.69,267.91 406.17,267.90 407.64,267.90 409.11,267.90 410.58,267.89 412.06,267.89 413.53,267.87 415.00,267.84 416.47,267.79 417.95,267.72 419.42,267.65 420.89,267.57 422.36,267.46 423.84,267.31 425.31,267.13 426.78,266.91 428.25,266.65 429.72,266.35 431.20,265.84 432.67,265.14 434.14,264.33 435.61,263.46 437.09,262.44 438.56,261.26 440.03,260.00 441.50,258.68 442.98,257.20 444.45,255.62 445.92,254.12 447.39,252.82 448.87,251.61 450.34,250.58 451.81,249.87 453.28,249.27 454.76,248.95 456.23,249.00 457.70,249.16 459.17,249.41 460.65,249.70 462.12,250.11 463.59,250.77 465.06,251.58 466.53,252.46 468.01,253.30 469.48,254.03 470.95,254.74 472.42,255.45 473.90,256.14 475.37,256.80 476.84,257.40 478.31,257.92 479.79,258.38 481.26,258.80 482.73,259.19 484.20,259.55 485.68,259.90 487.15,260.23 488.62,260.55 490.09,260.87 491.57,261.19 493.04,261.51 494.51,261.81 495.98,262.10 497.46,262.37 498.93,262.60 500.40,262.82 501.87,263.01 503.34,263.20 504.82,263.37 506.29,263.53 507.76,263.67 509.23,263.80 510.71,263.93 512.18,264.04 513.65,264.15 515.12,264.26 516.60,264.36 518.07,264.45 519.54,264.54 521.01,264.63 522.49,264.72 523.96,264.80 525.43,264.89 526.90,264.97 528.38,265.05 529.85,265.13 531.32,265.21 532.79,265.29 534.27,265.37 535.74,265.44 537.21,265.52 538.68,265.60 540.15,265.67 541.63,265.74 543.10,265.81 544.57,265.87 546.04,265.93 547.52,265.99 548.99,266.05 550.46,266.10 551.93,266.15 553.41,266.19 554.88,266.24 556.35,266.28 557.82,266.32 559.30,266.36 560.77,266.40 562.24,266.44 563.71,266.48 565.19,266.51 566.66,266.55 568.13,266.58 569.60,266.61 571.08,266.64 572.55,266.67 574.02,266.69 575.49,266.72 576.96,266.74 578.44,266.76 579.91,266.78 581.38,266.80 582.85,266.82 584.33,266.84 585.80,266.86 587.27,266.89 588.74,266.91 590.22,266.93 591.69,266.95 593.16,266.98 594.63,267.00 596.11,267.03 597.58,267.06 599.05,267.09 600.52,267.12 602.00,267.16 603.47,267.19 604.94,267.23 606.41,267.26 607.89,267.30 609.36,267.34 610.83,267.38 612.30,267.42 613.77,267.46 615.25,267.50 616.72,267.54 618.19,267.58" fill="none" stroke="#0000dd" stroke-width="2" stroke-linejoin="round"/>
<path d="M66.4,1.0H683.6V274.80H66.4ZM66.4,55.76H683.6M66.4,110.52H683.6M66.4,165.28H683.6M66.4,220.04H683.6" stroke="#000" stroke-width="2.0" fill="none"/>
<g class="t" font-family="Liberation Sans, sans-serif">
<text transform="translate(52.00,53.50) scale(1,1.04)" font-size="14" fill="#000" stroke="#000" stroke-width="0.4" text-anchor="end">0</text>
<text transform="translate(52.00,34.60) scale(1,1.04)" font-size="14" fill="#000" stroke="#000" stroke-width="0.4" text-anchor="end">5</text>
<text transform="translate(52.00,15.70) scale(1,1.04)" font-size="14" fill="#000" stroke="#000" stroke-width="0.4" text-anchor="end">10</text>
<text transform="translate(52.00,108.26) scale(1,1.04)" font-size="14" fill="#000" stroke="#000" stroke-width="0.4" text-anchor="end">0</text>
<text transform="translate(52.00,89.36) scale(1,1.04)" font-size="14" fill="#000" stroke="#000" stroke-width="0.4" text-anchor="end">5</text>
<text transform="translate(52.00,70.46) scale(1,1.04)" font-size="14" fill="#000" stroke="#000" stroke-width="0.4" text-anchor="end">10</text>
<text transform="translate(52.00,163.02) scale(1,1.04)" font-size="14" fill="#000" stroke="#000" stroke-width="0.4" text-anchor="end">0</text>
<text transform="translate(52.00,144.12) scale(1,1.04)" font-size="14" fill="#000" stroke="#000" stroke-width="0.4" text-anchor="end">5</text>
<text transform="translate(52.00,125.22) scale(1,1.04)" font-size="14" fill="#000" stroke="#000" stroke-width="0.4" text-anchor="end">10</text>
<text transform="translate(52.00,217.78) scale(1,1.04)" font-size="14" fill="#000" stroke="#000" stroke-width="0.4" text-anchor="end">0</text>
<text transform="translate(52.00,198.88) scale(1,1.04)" font-size="14" fill="#000" stroke="#000" stroke-width="0.4" text-anchor="end">5</text>
<text transform="translate(52.00,179.98) scale(1,1.04)" font-size="14" fill="#000" stroke="#000" stroke-width="0.4" text-anchor="end">10</text>
<text transform="translate(52.00,272.54) scale(1,1.04)" font-size="14" fill="#000" stroke="#000" stroke-width="0.4" text-anchor="end">0</text>
<text transform="translate(52.00,253.64) scale(1,1.04)" font-size="14" fill="#000" stroke="#000" stroke-width="0.4" text-anchor="end">5</text>
<text transform="translate(52.00,234.74) scale(1,1.04)" font-size="14" fill="#000" stroke="#000" stroke-width="0.4" text-anchor="end">10</text>
<text transform="translate(132.30,301.00) scale(1,1.04)" font-size="14" fill="#000" stroke="#000" stroke-width="0.4" text-anchor="middle">0</text>
<text transform="translate(205.92,301.00) scale(1,1.04)" font-size="14" fill="#000" stroke="#000" stroke-width="0.4" text-anchor="middle">100</text>
<text transform="translate(279.54,301.00) scale(1,1.04)" font-size="14" fill="#000" stroke="#000" stroke-width="0.4" text-anchor="middle">200</text>
<text transform="translate(353.16,301.00) scale(1,1.04)" font-size="14" fill="#000" stroke="#000" stroke-width="0.4" text-anchor="middle">300</text>
<text transform="translate(426.78,301.00) scale(1,1.04)" font-size="14" fill="#000" stroke="#000" stroke-width="0.4" text-anchor="middle">400</text>
<text transform="translate(500.40,301.00) scale(1,1.04)" font-size="14" fill="#000" stroke="#000" stroke-width="0.4" text-anchor="middle">500</text>
<text transform="translate(574.02,301.00) scale(1,1.04)" font-size="14" fill="#000" stroke="#000" stroke-width="0.4" text-anchor="middle">600</text>
<text transform="translate(647.64,301.00) scale(1,1.04)" font-size="14" fill="#000" stroke="#000" stroke-width="0.4" text-anchor="middle">700</text>
<text transform="translate(355.90,326.60) scale(1,1.02)" font-size="17.2" fill="#000" stroke="#000" stroke-width="0.4" text-anchor="middle">Retention time (s)</text>
<text transform="translate(16.3,137.05) rotate(-90)" x="0" y="0" font-size="18" fill="#000" stroke="#000" stroke-width="0.4" text-anchor="middle">Intensity (×10<tspan font-size="12" dy="-7.5">3</tspan><tspan dy="7.5"> arb. unit)</tspan></text>
<text transform="translate(75.60,23.60) scale(1,1.02)" font-size="18.2" fill="#000" stroke="#000" stroke-width="0.4">(a)</text>
<text transform="translate(75.60,78.36) scale(1,1.02)" font-size="18.2" fill="#000" stroke="#000" stroke-width="0.4">(b)</text>
<text transform="translate(75.60,133.12) scale(1,1.02)" font-size="18.2" fill="#000" stroke="#000" stroke-width="0.4">(c)</text>
<text transform="translate(75.60,187.88) scale(1,1.02)" font-size="18.2" fill="#000" stroke="#000" stroke-width="0.4">(d)</text>
<text transform="translate(75.60,242.64) scale(1,1.02)" font-size="18.2" fill="#000" stroke="#000" stroke-width="0.4">(e)</text>
<text transform="translate(195.20,23.80) scale(1,1.01)" font-size="13.7" fill="#f00070" stroke="#f00070" stroke-width="0.22">Mixture</text>
<text transform="translate(529.40,21.90) scale(1,1.0)" font-size="13.7" fill="#0000e6" stroke="#0000e6" stroke-width="0.22">Sum of chromatograms</text>
<text transform="translate(671.50,38.60) scale(1,1.0)" font-size="13.7" fill="#0000e6" stroke="#0000e6" stroke-width="0.22" text-anchor="end">in b, c, d, and e</text>
<text transform="translate(283.80,78.90) scale(1,1.04)" font-size="13.7" fill="#0000e6" stroke="#0000e6" stroke-width="0.22">MMA</text>
<text transform="translate(277.50,139.70) scale(1,1.04)" font-size="13.7" fill="#0000e6" stroke="#0000e6" stroke-width="0.22">DMA</text>
<text transform="translate(275.10,194.20) scale(1,1.04)" font-size="13.7" fill="#0000e6" stroke="#0000e6" stroke-width="0.22">As(III)</text>
<text transform="translate(440.20,244.10) scale(1,1.04)" font-size="13.7" fill="#0000e6" stroke="#0000e6" stroke-width="0.22">As(V)</text>
</g>
<path d="M270.5,39.4L250,26" stroke="#f00070" stroke-width="1.4"/>
<path d="M245.5,23L253.4,24.1L249.4,29.7Z" fill="#f00070"/>
<path d="M505.1,43.2L526,30.5" stroke="#0000dd" stroke-width="1.4"/>
<path d="M531.2,26.9L527,33.8L523.3,28.2Z" fill="#0000dd"/>
</svg>
</body></html>
